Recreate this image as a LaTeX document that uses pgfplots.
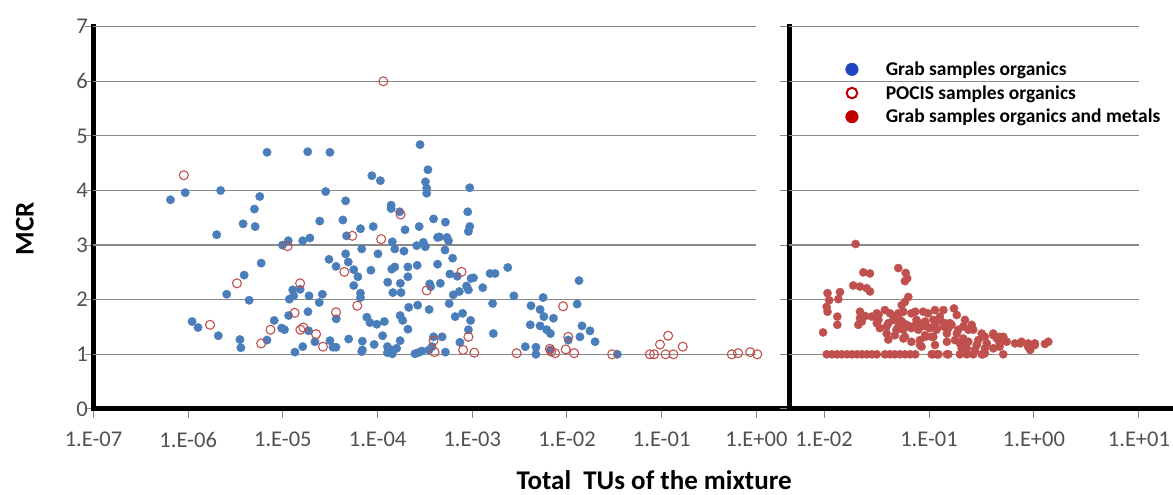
\documentclass[border=0pt]{standalone}
\usepackage{fontspec}
\setmainfont{Carlito}
\usepackage{pgfplots}
\pgfplotsset{compat=1.18}
\definecolor{bluept}{HTML}{4A7EBB}
\definecolor{redpt}{HTML}{C0504D}
\definecolor{legblue}{HTML}{1F45C2}
\definecolor{legred}{HTML}{C00000}
\definecolor{gridc}{HTML}{8A8A8A}
\definecolor{tickc}{HTML}{505050}
\pgfplotsset{
  panel/.style={
    scale only axis, height=382.2pt,
    ymin=0, ymax=7, ytick={0,...,7},
    xminorticks=false,
    axis x line=bottom, axis y line=left,
    axis line style={-, line width=5pt, black, line cap=rect},
    tick align=outside, major tick length=9pt,
    tick style={gridc, line width=1pt},
    ticklabel style={font=\fontsize{22.5}{27}\selectfont, text=tickc, inner sep=0pt},
    /pgf/number format/assume math mode=true,
    xticklabel style={anchor=north, yshift=-14pt},
    yticklabel style={anchor=east, xshift=3.5pt},
    clip=false,
  },
  blueset/.style={only marks, mark=*, mark size=4.2pt, color=bluept, mark options={draw=bluept, fill=bluept}},
  openset/.style={only marks, mark=o, mark size=4.5pt, color=redpt, mark options={draw=redpt, line width=1.1pt}},
  redset/.style={only marks, mark=*, mark size=4.1pt, color=redpt, mark options={draw=redpt, fill=redpt}},
}
\begin{document}
\begin{tikzpicture}
\useasboundingbox (0pt,0pt) rectangle (1173pt,495pt);
% ---------------- left panel ----------------
\begin{axis}[xmode=log, panel,
  at={(93.5pt,86.1pt)}, anchor=south west, width=695.5pt,
  xmin=1e-7, xmax=2.21,
  xtick={1e-7,1e-6,1e-5,1e-4,1e-3,1e-2,1e-1,1},
  xticklabels={1.E-07,1.E-06,1.E-05,1.E-04,1.E-03,1.E-02,1.E-01,1.E+00},
  xlabel={\fontsize{27}{32}\selectfont\bfseries Total\ \ TUs of the mixture},
  xlabel style={at={(axis description cs:0.806,-0.2096)}, anchor=base, inner sep=0pt},
  ylabel={\fontsize{27}{32}\selectfont\bfseries MCR},
  ylabel style={at={(axis description cs:-0.0985,0.471)}, anchor=center, inner sep=0pt},
]
\pgfplotsinvokeforeach{1,...,7}{\draw[gridc, line width=1.2pt] (axis cs:1e-7,#1) -- (axis cs:1,#1);}
\addplot[blueset] coordinates {
(6.5e-7,3.83) (9.3e-7,3.96) (2.2e-6,4.00) (5.7e-6,3.89) (5.0e-6,3.66) (3.8e-6,3.39) (5.1e-6,3.34) (2.0e-6,3.19)
(9.9e-6,3.00) (1.14e-5,3.08) (1.62e-5,3.08) (1.93e-5,3.13) (6.8e-6,4.70) (1.83e-5,4.71) (3.14e-5,4.70) (2.83e-5,3.98)
(8.7e-5,4.27) (1.07e-4,4.18) (4.6e-5,3.81) (2.45e-5,3.44) (4.3e-5,3.46) (4.7e-5,3.17) (6.6e-5,3.30) (9.0e-5,3.34)
(1.39e-4,3.73) (1.39e-4,3.67) (1.71e-4,3.61) (1.95e-4,3.28) (2.75e-4,3.34) (3.9e-4,3.48) (4.3e-4,3.14) (3.4e-4,4.38)
(3.2e-4,4.16) (3.3e-4,4.04) (3.3e-4,3.95) (1.43e-4,3.06) (1.52e-4,2.93) (1.90e-4,2.89) (2.59e-4,2.99) (3.04e-4,3.05)
(3.19e-4,2.97) (5.9e-6,2.67) (3.9e-6,2.45) (2.55e-6,2.10) (4.4e-6,1.99) (3.07e-5,2.74) (3.64e-5,2.61) (4.6e-5,2.84)
(4.9e-5,2.69) (5.6e-5,2.55) (6.2e-5,2.42) (5.6e-5,2.26) (6.6e-5,2.12) (6.6e-5,2.04) (8.5e-5,2.54) (1.01e-4,2.84)
(1.41e-4,2.56) (1.52e-4,2.60) (2.09e-4,2.60) (2.62e-4,2.63) (4.3e-4,2.65) (1.28e-4,2.32) (1.74e-4,2.30) (2.09e-4,2.42)
(1.45e-4,2.13) (1.77e-4,2.13) (3.55e-4,2.29) (3.64e-4,2.24) (2.13e-4,1.86) (2.65e-4,1.90) (3.5e-4,1.82) (1.27e-5,2.18)
(1.52e-5,2.19) (1.17e-5,2.01) (1.30e-5,2.07) (1.89e-5,2.07) (2.61e-5,2.10) (2.42e-5,1.95) (1.10e-6,1.60) (1.27e-6,1.49)
(2.08e-6,1.34) (3.52e-6,1.27) (3.6e-6,1.12) (6.8e-6,1.26) (8.1e-6,1.62) (9.7e-6,1.48) (1.04e-5,1.45) (1.15e-5,1.71)
(1.84e-5,1.78) (3.66e-5,1.65) (1.34e-5,1.04) (1.62e-5,1.14) (1.87e-5,1.43) (2.18e-5,1.23) (3.14e-5,1.25) (3.38e-5,1.13)
(3.64e-5,1.13) (4.95e-5,1.28) (6.9e-5,1.24) (6.9e-5,1.08) (9.2e-5,1.18) (1.13e-4,1.34) (7.7e-5,1.68) (8.3e-5,1.58)
(9.8e-5,1.55) (1.18e-4,1.60) (1.73e-4,1.71) (1.84e-4,1.62) (2.09e-4,1.46) (1.27e-4,1.14) (1.40e-4,1.08) (1.73e-4,1.25)
(2.48e-4,1.01) (2.94e-4,1.06) (3.49e-4,1.08) (3.76e-4,1.14) (2.81e-4,4.84) (9.4e-4,4.05) (8.95e-4,3.61) (9.4e-4,3.34)
(9.1e-4,3.25) (5.2e-4,3.42) (6.8e-5,2.93) (4.5e-4,3.15) (5.4e-4,3.14) (5.6e-4,3.08) (5.15e-4,2.91) (6.2e-4,2.76)
(5.8e-4,2.47) (6.95e-4,2.43) (1.03e-3,2.40) (1.54e-3,2.48) (1.74e-3,2.48) (2.37e-3,2.59) (4.6e-4,2.30) (6.3e-4,2.09)
(7.3e-4,2.15) (9.1e-4,2.18) (8.7e-4,2.25) (9.7e-4,2.39) (1.29e-3,2.22) (2.75e-3,2.07) (5.6e-3,2.04) (1.64e-3,1.93)
(5.7e-4,1.93) (1.34e-2,2.35) (1.28e-2,1.92) (4.17e-3,1.89) (5.2e-3,1.82) (5.7e-3,1.69) (7.2e-3,1.66) (4.1e-3,1.54)
(5.2e-3,1.52) (6.1e-3,1.45) (6.7e-3,1.38) (1.44e-2,1.52) (1.75e-2,1.43) (1.98e-2,1.23) (1.37e-2,1.32) (1.03e-2,1.26)
(6.6e-4,1.69) (7.9e-4,1.75) (9.6e-4,1.62) (9.1e-4,1.45) (1.67e-3,1.38) (4.8e-4,1.32) (7.4e-4,1.22) (5.2e-4,1.04)
(3.63e-3,1.14) (4.7e-3,1.13) (4.7e-3,1.00) (6.7e-3,1.08) (3.4e-2,1.00) (3.9e-4,1.32) (6.8e-5,1.05) (1.27e-4,1.03)
(1.43e-4,1.01) (1.59e-4,1.11) (2.69e-4,1.03)
};
\addplot[openset] coordinates {
(9.0e-7,4.28) (1.15e-4,6.0) (3.27e-6,2.30) (1.70e-6,1.54) (5.9e-6,1.20) (7.4e-6,1.45) (1.12e-5,2.98) (5.4e-5,3.17)
(1.09e-4,3.11) (1.75e-4,3.56) (4.45e-5,2.51) (3.3e-4,2.17) (6.1e-5,1.89) (1.52e-5,2.30) (1.33e-5,1.76) (3.64e-5,1.77)
(1.53e-5,1.45) (1.64e-5,1.49) (2.24e-5,1.37) (2.65e-5,1.14) (3.9e-4,1.25) (4.0e-4,1.04) (7.7e-4,2.51) (8.0e-4,1.08)
(1.05e-3,1.03) (9.1e-3,1.88) (9.1e-4,1.32) (2.94e-3,1.02) (6.6e-3,1.10) (6.8e-3,1.05) (9.7e-3,1.09) (1.03e-2,1.32)
(7.5e-3,1.02) (1.19e-2,1.02) (3.0e-2,1.0) (7.5e-2,1.0) (8.3e-2,1.0) (0.110,1.0) (0.133,1.0) (9.6e-2,1.18)
(0.117,1.34) (0.167,1.14) (0.55,1.0) (0.64,1.02) (0.86,1.04) (1.02,1.0)
};
\end{axis}
% ---------------- right panel ----------------
\begin{axis}[xmode=log, panel,
  at={(789pt,86.1pt)}, anchor=south west, width=384pt,
  xmin=4.64e-3, xmax=21.1,
  xtick={1e-2,1e-1,1,10},
  xticklabels={1.E-02,1.E-01,1.E+00,1.E+01},
  yticklabels={},
  legend cell align=left,
  legend style={at={(0.147,0.914)}, anchor=north west, draw=none, fill=none,
    inner sep=0pt, font=\fontsize{19.5}{23}\selectfont\bfseries, row sep=4.5pt,
    /tikz/every odd column/.append style={column sep=25.5pt}},
]
\pgfplotsinvokeforeach{1,...,7}{\draw[gridc, line width=1.2pt] (axis cs:4.64e-3,#1) -- (axis cs:10,#1);}
\addlegendimage{only marks, mark=*, mark size=6.3pt, color=legblue}
\addlegendentry{Grab samples organics}
\addlegendimage{only marks, mark=o, mark size=5.3pt, color=legred, mark options={line width=2pt}}
\addlegendentry{POCIS samples organics}
\addlegendimage{only marks, mark=*, mark size=6.3pt, color=legred}
\addlegendentry{Grab samples organics and metals}
\addplot[redset, forget plot] coordinates {
(2.0e-2,3.02) (2.37e-2,2.50) (2.74e-2,2.48) (5.1e-2,2.58) (6.0e-2,2.49) (6.2e-2,2.39) (5.9e-2,2.34) (1.90e-2,2.26)
(2.2e-2,2.24) (2.55e-2,2.21) (2.74e-2,2.15) (1.08e-2,2.12) (1.42e-2,2.14) (1.37e-2,2.01) (1.12e-2,1.99) (1.06e-2,1.87)
(1.08e-2,1.78) (1.34e-2,1.69) (1.34e-2,1.54) (9.8e-3,1.40) (6.35e-2,2.05) (5.9e-2,1.96) (5.5e-2,1.90) (2.2e-2,1.78)
(2.85e-2,1.69) (2.29e-2,1.60) (2.12e-2,1.54) (3.3e-2,1.72) (3.8e-2,1.81) (4.26e-2,1.75) (4.9e-2,1.69) (5.3e-2,1.63)
(5.7e-2,1.57) (4.57e-2,1.63) (4.1e-2,1.57) (3.4e-2,1.48) (3.3e-2,1.63) (3.95e-2,1.38) (4.9e-2,1.45) (5.7e-2,1.45)
(6.6e-2,1.51) (7.4e-2,1.78) (9.8e-2,1.75) (0.137,1.81) (0.173,1.84) (0.184,1.72) (0.22,1.63) (0.158,1.57)
(0.137,1.51) (0.118,1.45) (9.5e-2,1.51) (7.9e-2,1.45) (7.6e-2,1.63) (8.8e-2,1.57) (0.110,1.63) (0.127,1.69)
(0.148,1.38) (0.106,1.32) (8.2e-2,1.26) (9.2e-2,1.35) (0.184,1.38) (0.264,1.45) (0.318,1.38) (0.212,1.29)
(0.197,1.20) (0.229,1.11) (0.285,1.17) (0.355,1.20) (0.41,1.35) (0.47,1.32) (0.55,1.23) (0.47,1.14)
(0.74,1.20) (0.88,1.20) (1.02,1.17) (1.27,1.19) (0.92,1.08) (0.341,1.11) (0.114,1.17) (8.5e-2,1.14)
(5.9e-2,1.32) (4.1e-2,1.27)
(2.20e-2,1.66) (2.46e-2,1.70) (3.18e-2,1.75) (5.1e-2,1.75) (5.7e-2,1.78) (6.8e-2,1.75) (8.8e-2,1.78) (0.114,1.81)
(0.255,1.54) (3.18e-2,1.57) (3.95e-2,1.51) (5.1e-2,1.51) (5.5e-2,1.60) (6.1e-2,1.54) (6.8e-2,1.48) (7.6e-2,1.57)
(8.5e-2,1.51) (9.2e-2,1.60) (0.102,1.48) (0.114,1.54) (0.127,1.63) (0.142,1.57) (0.153,1.48) (0.164,1.54)
(0.190,1.45) (0.212,1.51) (0.237,1.45) (4.74e-2,1.35) (5.7e-2,1.29) (6.8e-2,1.23) (8.2e-2,1.17) (9.2e-2,1.32)
(0.110,1.32) (0.148,1.23) (0.177,1.26) (0.205,1.17) (0.237,1.23) (0.295,1.26) (0.341,1.32) (0.41,1.38)
(0.442,1.29) (0.51,1.32) (0.66,1.20) (0.76,1.23) (0.88,1.14) (1.02,1.20) (1.37,1.23) (0.47,1.20)
(0.205,1.11) (0.274,1.08) (0.41,1.11)
(1.06e-2,1.0) (1.19e-2,1.0) (1.33e-2,1.0) (1.48e-2,1.0) (1.66e-2,1.0) (1.85e-2,1.0) (2.06e-2,1.0) (2.30e-2,1.0)
(2.57e-2,1.0) (2.86e-2,1.0) (3.18e-2,1.0) (3.81e-2,1.0) (4.26e-2,1.0) (4.74e-2,1.0) (5.3e-2,1.0) (5.9e-2,1.0)
(6.6e-2,1.0) (7.4e-2,1.0) (0.106,1.0) (0.109,1.0) (0.119,1.0) (0.123,1.0) (0.148,1.0) (0.153,1.0) (0.197,1.0)
(0.229,1.0) (0.264,1.0) (0.318,1.0) (0.327,1.0) (0.341,1.02) (0.51,1.0)
};
\end{axis}
\end{tikzpicture}
\end{document}
